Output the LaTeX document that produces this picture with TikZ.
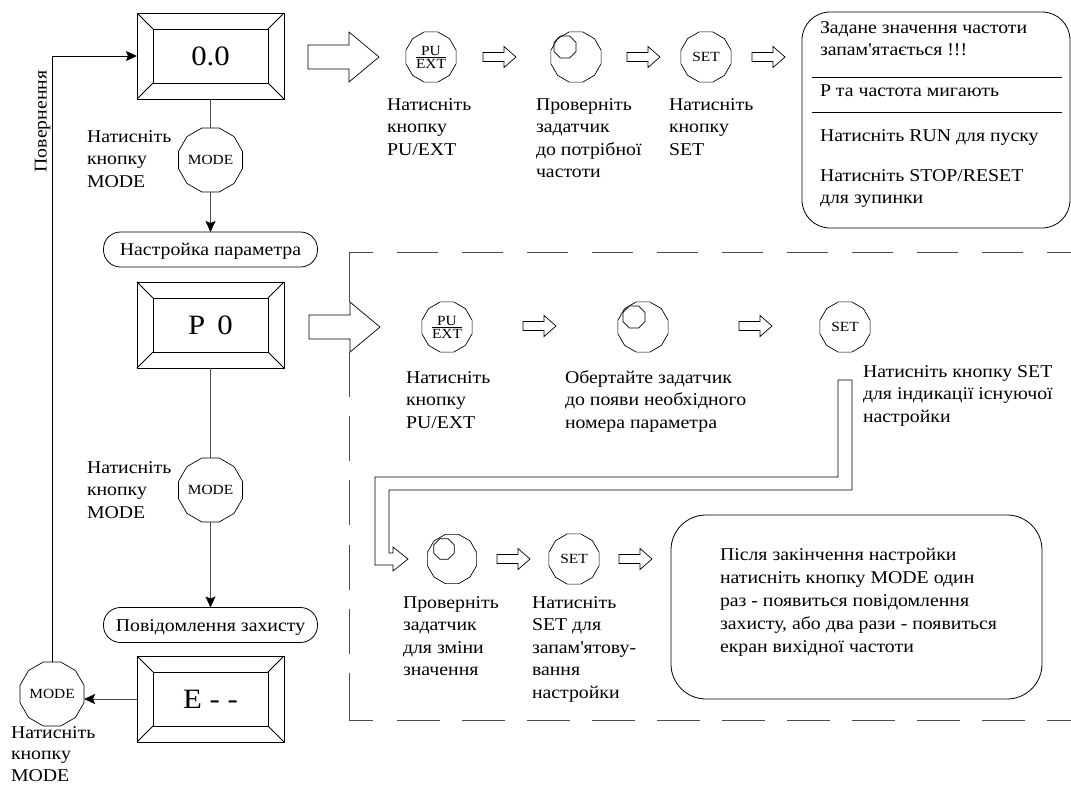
\documentclass[tikz,border=0pt]{standalone}
\usepackage{fontspec}
\setmainfont{Liberation Serif}[FakeStretch=1.1]
\usetikzlibrary{shapes.geometric,arrows.meta}
\newcommand\ml[1]{\begin{tabular}[t]{@{}l@{}}#1\end{tabular}}
\newcommand\puext{\fontsize{14}{14}\selectfont$\vcenter{\hbox to 30pt{\hss PU\hss}\kern1.5pt\hrule height 0.6pt\kern1.5pt\hbox to 30pt{\hss EXT\hss}}$}
\newcommand\dispbox[4]{%
  \node[disp] (#1) at (#2,#3) {};
  \node[dispin] (#1in) at (#2,#3) {#4};
  \draw[line width=0.9pt] (#1.north west)--(#1in.north west) (#1.north east)--(#1in.north east)
    (#1.south west)--(#1in.south west) (#1.south east)--(#1in.south east);}
\newcommand\bigarrow[2]{\draw[harrow] (#1,#2-12) -- ++(41,0) -- ++(0,-13) -- (#1+71,#2) -- (#1+41,#2+25) -- ++(0,-13) -- (#1,#2+12) -- cycle;}
\newcommand\smarrow[2]{\draw[harrow] (#1,#2-4.5) -- ++(21,0) -- ++(0,-6) -- (#1+33,#2) -- (#1+21,#2+10.5) -- ++(0,-6) -- (#1,#2+4.5) -- cycle;}
\tikzset{
  every node/.style={inner sep=0pt, outer sep=0pt},
  disp/.style={draw, line width=0.9pt, minimum width=147pt, minimum height=86pt},
  dispin/.style={draw, line width=0.9pt, minimum width=115pt, minimum height=54pt, font=\fontsize{28}{28}\selectfont},
  btn/.style={draw, regular polygon, regular polygon sides=12, minimum size=52pt, line width=0.7pt, font=\fontsize{14}{14}\selectfont},
  knobsmall/.style={draw, regular polygon, regular polygon sides=8, minimum size=24pt, line width=0.7pt},
  pill/.style={draw, line width=0.8pt, rounded corners=17pt, minimum width=214pt, minimum height=35pt, font=\fontsize{18}{18}\selectfont, text height=12pt, text depth=0pt},
  txt/.style={anchor=base west, font=\fontsize{18}{22.6}\selectfont},
  conn/.style={line width=0.8pt, draw=black!70},
  tip/.style={-{Stealth[length=11pt,width=10pt,inset=2pt,color=black]}},
  harrow/.style={line width=0.7pt},
  dline/.style={line width=0.8pt, draw=black!70},
  roundbox/.style={draw, line width=0.8pt},
}
\begin{document}
\begin{tikzpicture}[x=1pt,y=-1pt]
\useasboundingbox (0,0) rectangle (1071,785);

% left column
\dispbox{d1}{210.5}{56}{0.0}
\dispbox{d2}{210.5}{325}{P\hspace{12pt}0}
\dispbox{d3}{210.5}{699}{E - -}
\node[btn] (mode1) at (210.5,160) {MODE};
\node[btn] (mode2) at (210.5,490) {MODE};
\node[btn] (mode3) at (52,694) {MODE};
\node[pill] (pill1) at (210.5,249.5) {Настройка параметра};
\node[pill] (pill2) at (210.5,625) {Повідомлення захисту};
\draw[conn] (d1) -- (mode1);
\draw[conn,tip] (mode1) -- (pill1);
\draw[conn] (d2) -- (mode2);
\draw[conn,tip] (mode2) -- (pill2);
\draw[conn,tip] (d3.west) -- (d3.west -| mode3.east);
\draw[line width=0.8pt,tip] (mode3.north) |- (d1.west);
\node[txt] (t1) at (87,142) {\ml{Натисніть\\кнопку\\MODE}};
\node[txt] (t2) at (87,473) {\ml{Натисніть\\кнопку\\MODE}};
\node[txt, font=\fontsize{18}{21.5}\selectfont] (t3) at (11,738) {\ml{Натисніть\\кнопку\\MODE}};
\node[anchor=base, rotate=90, font=\fontsize{18}{18}\selectfont] (ret) at (46.5,121.5) {Повернення};

% top row
\bigarrow{308}{57}
\node[btn] (pu1) at (431,57) {\puext};
\smarrow{483}{57}
\node[btn] (k1) at (576,57) {};
\node[knobsmall] (k1s) at (565,47) {};
\smarrow{627}{57}
\node[btn] (set1) at (706,57) {SET};
\smarrow{752}{57}
\node[txt] (t4) at (387,110) {\ml{Натисніть\\кнопку\\PU/EXT}};
\node[txt] (t5) at (536,110) {\ml{Проверніть\\задатчик\\до потрібної\\частоти}};
\node[txt] (t6) at (669,110) {\ml{Натисніть\\кнопку\\SET}};
\node[roundbox, rounded corners=28pt, minimum width=268pt, minimum height=216pt] (info) at (936,120) {};
\draw[line width=0.8pt] (812,77) -- (1062,77);
\draw[line width=0.8pt] (812,112) -- (1062,112);
\node[txt] (i1) at (820,33) {\ml{Задане значення частоти\\запам\textquotesingle ятається !!!}};
\node[txt] (i2) at (820,96) {Р та частота мигають};
\node[txt] (i3) at (820,141) {Натисніть RUN для пуску};
\node[txt] (i4) at (820,181) {\ml{Натисніть STOP/RESET\\для зупинки}};

% dashed region
\draw[dline] (349,302) -- (349,252) -- (373,252);
\draw[dline, dash pattern=on 41pt off 24pt] (397,252) -- (1075,252);
\draw[dline, dash pattern=on 45pt off 19.2pt] (349,352) -- (349,673);
\draw[dline] (349,673) -- (349,720) -- (373,720);
\draw[dline, dash pattern=on 43pt off 22pt] (397,720) -- (1075,720);

% middle row
\bigarrow{309}{327}
\node[btn] (pu2) at (447,327) {\puext};
\smarrow{523}{326}
\node[btn] (k2) at (643,327) {};
\node[knobsmall] (k2s) at (634,317) {};
\smarrow{739}{326}
\node[btn] (set2) at (845,327) {SET};
\node[txt] (t7) at (406,383) {\ml{Натисніть\\кнопку\\PU/EXT}};
\node[txt] (t8) at (565,383) {\ml{Обертайте задатчик\\до появи необхідного\\номера параметра}};
\node[txt] (t9) at (863,377) {\ml{Натисніть кнопку SET\\для індикації існуючої\\настройки}};

% pipe arrow
\draw[harrow] (838,380) -- (838,477) -- (375,477) -- (375,565) -- (393,565) -- (393,571) -- (408,559) -- (393,547) -- (393,553) -- (389,553) -- (389,490) -- (852,490) -- (852,380) -- cycle;

% bottom row
\node[btn,minimum size=51pt] (k3) at (452,559) {};
\node[knobsmall,minimum size=22pt] (k3s) at (444,549) {};
\smarrow{497}{559}
\node[btn] (set3) at (574,559) {SET};
\smarrow{619}{559}
\node[txt] (t10) at (403,608) {\ml{Проверніть\\задатчик\\для зміни\\значення}};
\node[txt] (t11) at (532,608) {\ml{Натисніть\\SET для\\запам\textquotesingle ятову-\\вання\\настройки}};
\node[roundbox, rounded corners=35pt, minimum width=371pt, minimum height=184pt] (note) at (856.5,607) {};
\node[txt, font=\fontsize{18}{23}\selectfont] (t12) at (720,560) {\ml{Після закінчення настройки\\натисніть кнопку MODE один\\раз - появиться повідомлення\\захисту, або два рази - появиться\\екран вихідної частоти}};
\end{tikzpicture}
\end{document}
